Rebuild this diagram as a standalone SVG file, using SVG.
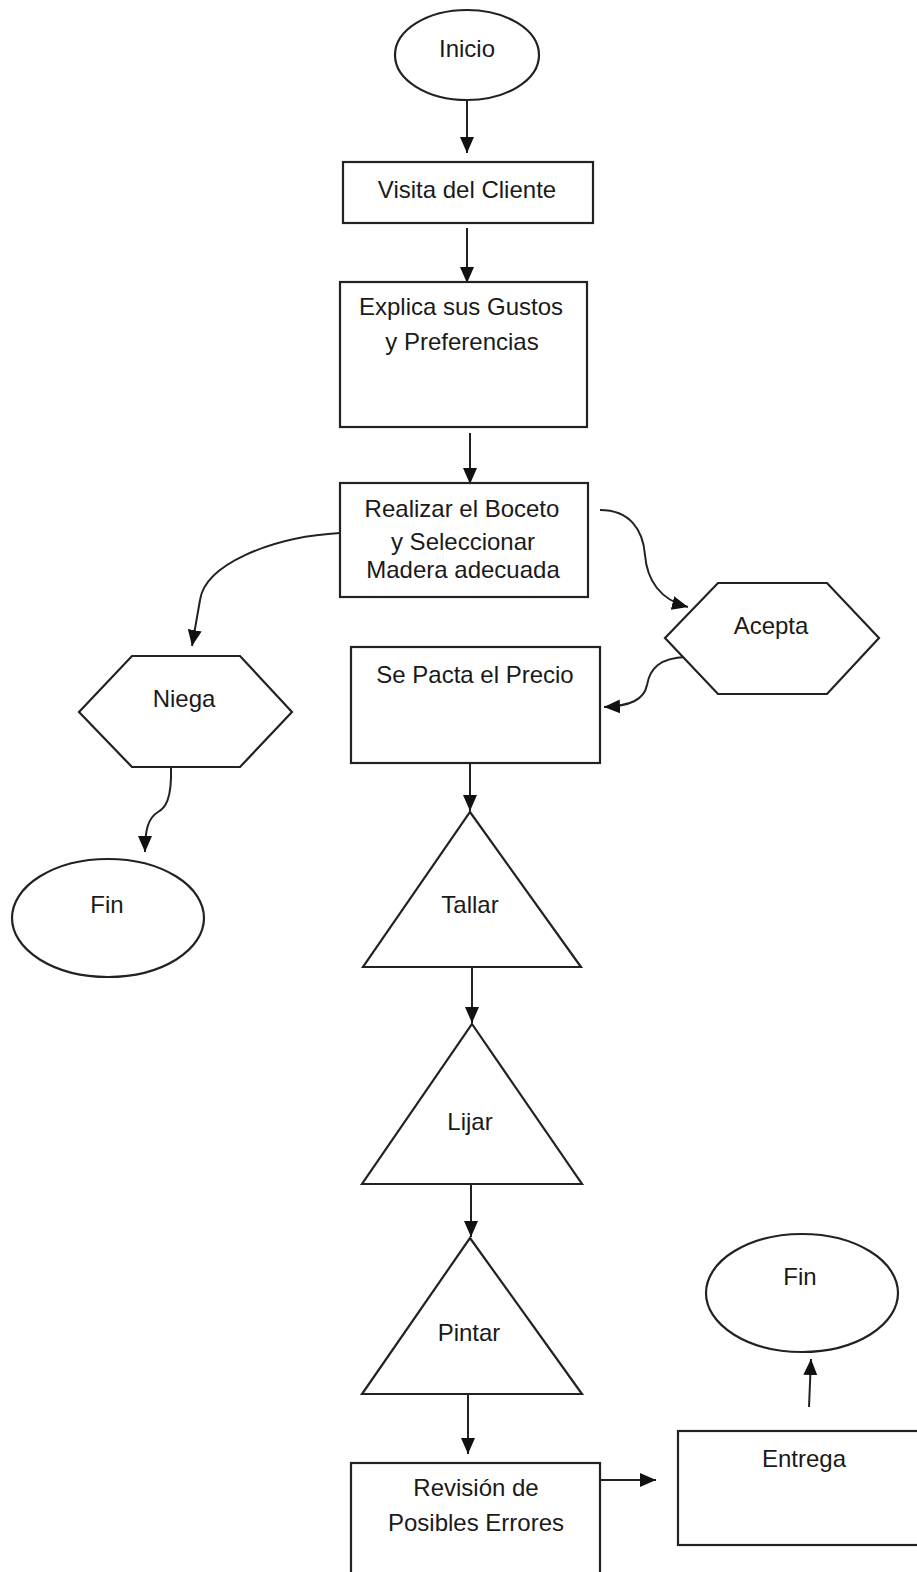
<svg xmlns="http://www.w3.org/2000/svg" width="917" height="1572" viewBox="0 0 917 1572">
<style>
.s{fill:#fff;stroke:#222;stroke-width:2.2}
.t{font-family:"Liberation Sans",Arial,sans-serif;font-size:24px;fill:#1a1a1a;text-anchor:middle}
.c{fill:none;stroke:#222;stroke-width:2}
</style>
<defs>
<marker id="ah" markerUnits="userSpaceOnUse" markerWidth="16" markerHeight="14" refX="16" refY="7" orient="auto">
<path d="M0,0 L16,7 L0,14 z" fill="#111"/>
</marker>
</defs>
<rect width="917" height="1572" fill="#fff"/>
<g id="connectors">
<path class="c" d="M467,100 L467,153" marker-end="url(#ah)"/>
<path class="c" d="M467,228 L467,283" marker-end="url(#ah)"/>
<path class="c" d="M470,433 L470,484" marker-end="url(#ah)"/>
<path class="c" d="M340,533 C270,537 205,565 200,600 L192,646" marker-end="url(#ah)"/>
<path class="c" d="M600,510 C630,510 643,530 645,555 C647,580 660,600 688,607" marker-end="url(#ah)"/>
<path class="c" d="M686,657 C660,658 650,668 647,685 C644,700 630,706 604,707" marker-end="url(#ah)"/>
<path class="c" d="M171,767 C172,800 165,808 158,812 C148,818 145,830 145,852" marker-end="url(#ah)"/>
<path class="c" d="M470,764 L470,811" marker-end="url(#ah)"/>
<path class="c" d="M472,968 L472,1023" marker-end="url(#ah)"/>
<path class="c" d="M471,1185 L471,1237" marker-end="url(#ah)"/>
<path class="c" d="M468,1395 L468,1454" marker-end="url(#ah)"/>
<path class="c" d="M592,1480 L656,1480" marker-end="url(#ah)"/>
<path class="c" d="M809,1407 L811,1359" marker-end="url(#ah)"/>
</g>
<g id="inicio"><ellipse class="s" cx="467" cy="55" rx="72" ry="45"/><text class="t" x="467" y="57">Inicio</text></g>
<g id="visita"><rect class="s" x="343" y="162" width="250" height="61"/><text class="t" x="467" y="198">Visita del Cliente</text></g>
<g id="explica"><rect class="s" x="340" y="282" width="247" height="145"/><text class="t" x="461" y="315">Explica sus Gustos</text><text class="t" x="462" y="350">y Preferencias</text></g>
<g id="realizar"><rect class="s" x="340" y="483" width="248" height="114"/><text class="t" x="462" y="517">Realizar el Boceto</text><text class="t" x="463" y="550">y Seleccionar</text><text class="t" x="463" y="578">Madera adecuada</text></g>
<g id="niega"><polygon class="s" points="132,656 240,656 292,712 240,767 132,767 79,712"/><text class="t" x="184" y="707">Niega</text></g>
<g id="acepta"><polygon class="s" points="718,583 827,583 879,638 827,694 718,694 665,638"/><text class="t" x="771" y="634">Acepta</text></g>
<g id="pacta"><rect class="s" x="351" y="647" width="249" height="116"/><text class="t" x="475" y="683">Se Pacta el Precio</text></g>
<g id="fin1"><ellipse class="s" cx="108" cy="918" rx="96" ry="59"/><text class="t" x="107" y="913">Fin</text></g>
<g id="tallar"><polygon class="s" points="470,812 581,967 363,967"/><text class="t" x="470" y="913">Tallar</text></g>
<g id="lijar"><polygon class="s" points="472,1024 582,1184 362,1184"/><text class="t" x="470" y="1130">Lijar</text></g>
<g id="pintar"><polygon class="s" points="470,1238 582,1394 362,1394"/><text class="t" x="469" y="1341">Pintar</text></g>
<g id="revision"><rect class="s" x="351" y="1463" width="249" height="130"/><text class="t" x="476" y="1496">Revisión de</text><text class="t" x="476" y="1531">Posibles Errores</text></g>
<g id="entrega"><rect class="s" x="678" y="1431" width="260" height="114"/><text class="t" x="804" y="1467">Entrega</text></g>
<g id="fin2"><ellipse class="s" cx="802" cy="1293" rx="96" ry="59"/><text class="t" x="800" y="1285">Fin</text></g>
</svg>
